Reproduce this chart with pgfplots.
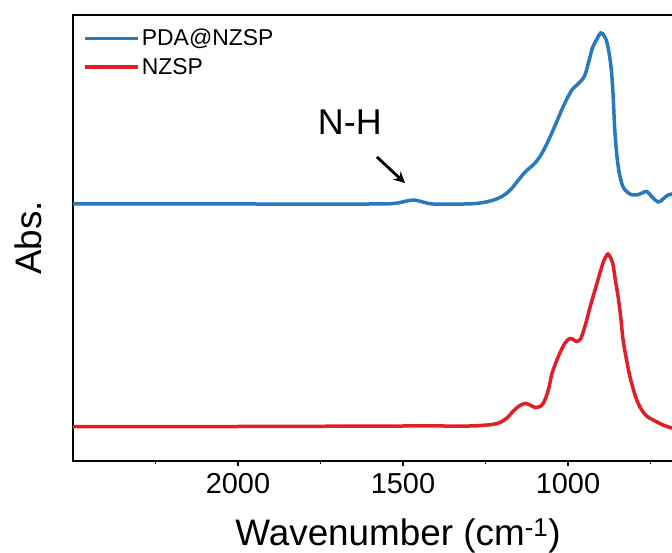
\documentclass[border=0pt]{standalone}
\usepackage{pgfplots}
\pgfplotsset{compat=1.18}
\usetikzlibrary{arrows.meta}
\usepackage{fontspec}
\setmainfont{Liberation Sans}
\definecolor{cblue}{RGB}{40,122,190}
\definecolor{cred}{RGB}{226,30,38}
\begin{document}
\begin{tikzpicture}
\useasboundingbox (-73bp,-92bp) rectangle (599bp,461bp);
\fill[black] (-0.8bp,444.8bp) rectangle (600bp,446.8bp);
\begin{axis}[
  at={(0,0)}, anchor=south west,
  scale only axis, width=620bp, height=446bp,
  x dir=reverse,
  xmin=621.2, xmax=2500, ymin=0, ymax=446,
  axis line style={line width=1.6bp},
  ytick=\empty,
  xtick={1000,1500,2000},
  minor xtick={750,1250,1750,2250},
  xtick pos=left,
  tick align=outside,
  major tick length=5bp, minor tick length=3bp,
  every tick/.style={black, line width=1.4bp},
  /pgf/number format/assume math mode=true,
  /pgf/number format/1000 sep={},
  tick label style={font=\fontsize{29}{29}\selectfont},
  xticklabel style={yshift=-4bp},
  xlabel={Wavenumber (cm\textsuperscript{-1})},
  ylabel={Abs.},
  label style={font=\fontsize{37}{37}\selectfont},
  xlabel style={at={(axis description cs:0.5242,0)}, anchor=base, yshift=-84bp},
  ylabel style={at={(axis description cs:-0.05,0.5)}, anchor=base},
  legend cell align=left,
  legend style={at={(axis description cs:0.0165,0.973)}, anchor=north west, draw=none, fill=none,
    font=\fontsize{23}{23}\selectfont, row sep=7bp, inner sep=0bp},
  legend image code/.code={\draw[#1] (0bp,0bp) -- (53bp,0bp);},
  clip=true,
]
\addplot[cblue, line width=3.5bp, smooth, tension=0.6] coordinates {
(2500,257) (2000,257) (1600,257) (1530,257.5) (1495,259.5) (1467,261) (1440,259) (1410,257)
(1350,256.8) (1290,257.3) (1260,258.3) (1230,260.5) (1200,264.5) (1175,271) (1150,281) (1127,290) (1100,298) (1075,310)
(1045,331) (1015,354) (990,370) (970,377) (950,385) (935,402) (925,414) (912,422) (901,428)
(890,425) (880,416) (870,395) (864,370) (858,330) (850,300) (842,284) (833,274) (821,269)
(805,266) (791,266) (775,268) (761,269.5) (745,264) (727,259) (712,262) (697,266) (685,267) (665,267)
};
\addlegendentry{PDA@NZSP}
\addplot[cred, line width=3.5bp, smooth, tension=0.5] coordinates {
(2500,34.5) (2000,34.5) (1500,35) (1300,35) (1267,35.5) (1230,36.5) (1206,38.5) (1185,43)
(1167,49.5) (1148,55) (1130,57.5) (1115,56) (1100,53.5) (1082,55) (1070,61) (1058,73)
(1048,88) (1030,104) (1009,118) (994,122.5) (982,121) (973,119.5) (962,122) (955,128)
(944,140) (933,154) (912,178) (894,198) (884,205) (879,207) (872,204) (864,197) (856,180)
(848,164) (840,143) (833,121) (822,100) (812,84) (797,66) (782,54) (762,45) (742,41)
(712,36) (685,33) (665,32)
};
\addlegendentry{NZSP}
\node[font=\fontsize{36}{36}\selectfont] at (axis cs:1661,339) {N-H};
\draw[-{Stealth[length=11bp,width=11bp]}, line width=2.8bp] (axis cs:1579,304) -- (axis cs:1494,278);
\end{axis}
\end{tikzpicture}
\end{document}
